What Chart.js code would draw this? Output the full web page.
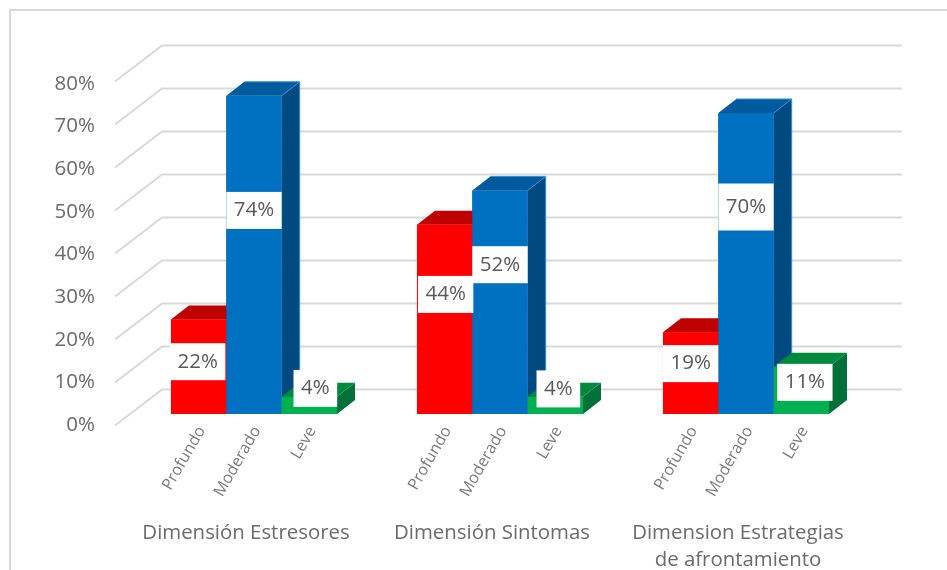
<!DOCTYPE html>
<html>
<head>
<meta charset="utf-8">
<style>
  html, body { margin: 0; padding: 0; background: #fff; }
  #wrap { position: relative; width: 947px; height: 570px; }
  #chart { filter: blur(0.4px); }
</style>
<script src="https://cdn.jsdelivr.net/npm/chart.js@4"></script>
</head>
<body>
<div id="wrap"><canvas id="chart" width="947" height="570"></canvas></div>
<script>
const categories = [
  "Dimensión Estresores",
  "Dimensión Sintomas",
  ["Dimension Estrategias", "de afrontamiento"],
];
const profundo = [22, 44, 19];
const moderado = [74, 52, 70];
const leve = [4, 4, 11];
const yTicks = [0, 10, 20, 30, 40, 50, 60, 70, 80];

// label box shift from the centre of each bar, the original labels were moved by hand
// [dx, dy, box height]
const labelShift = [
  [[-1, -5, 37], [1, -25, 37], [0, -9.5, 37]],
  [[0, -44.5, 37], [0, -37.5, 37], [0, -56.5, 47]],
  [[6, -17, 37], [3, -16.5, 37], [3.5, -8, 37]],
];

const textColor = "#595959";
const axisColor = "#6b6b6b";
const gridColor = "#d9d9d9";
const faces = [
  { top: "#bf0000", side: "#c00000", edge: null },
  { top: "#005a9e", side: "#004a80", edge: "#2f8fd8" },
  { top: "#008a3e", side: "#00703a", edge: null },
];
const depth = { x: 18, y: 14 };

const wall = {
  id: "wall",
  beforeDatasetsDraw(chart) {
    const { ctx, scales: { y } } = chart;
    ctx.save();
    ctx.strokeStyle = gridColor;
    ctx.lineWidth = 2;
    yTicks.forEach((v) => {
      const py = y.getPixelForValue(v);
      ctx.beginPath();
      ctx.moveTo(115, py + 11.5);
      ctx.lineTo(162, py - 24.5);
      ctx.lineTo(902, py - 24.5);
      ctx.stroke();
    });
    ctx.fillStyle = axisColor;
    ctx.font = '20.5px "Open Sans"';
    ctx.textAlign = "right";
    ctx.textBaseline = "middle";
    yTicks.forEach((v) => {
      ctx.fillText(v + "%", 95, y.getPixelForValue(v) + 11 + v * 0.0375);
    });
    ctx.restore();
  },
  afterDatasetsDraw(chart) {
    const { ctx } = chart;
    ctx.save();
    // painted left to right so each bar hides the depth of the one before it
    chart.data.datasets.forEach((ds, d) => {
      chart.getDatasetMeta(d).data.forEach((bar) => {
        const p = bar.getProps(["x", "y", "base", "width"], true);
        const l = p.x - p.width / 2, r = p.x + p.width / 2;
        const f = faces[d];
        ctx.fillStyle = f.side;
        ctx.beginPath();
        ctx.moveTo(r, p.y);
        ctx.lineTo(r + depth.x, p.y - depth.y);
        ctx.lineTo(r + depth.x, p.base - depth.y);
        ctx.lineTo(r, p.base);
        ctx.closePath();
        ctx.fill();
        ctx.fillStyle = f.top;
        ctx.beginPath();
        ctx.moveTo(l, p.y);
        ctx.lineTo(l + depth.x, p.y - depth.y);
        ctx.lineTo(r + depth.x, p.y - depth.y);
        ctx.lineTo(r, p.y);
        ctx.closePath();
        ctx.fill();
        if (f.edge) {
          ctx.strokeStyle = f.edge;
          ctx.lineWidth = 1;
          ctx.beginPath();
          ctx.moveTo(l + depth.x, p.y - depth.y);
          ctx.lineTo(r + depth.x, p.y - depth.y);
          ctx.lineTo(r + depth.x, p.base - depth.y);
          ctx.lineTo(r, p.base);
          ctx.moveTo(r + depth.x, p.y - depth.y);
          ctx.lineTo(r, p.y);
          ctx.stroke();
        }
        bar.draw(ctx);
      });
    });

    // rotated series names under the bars
    ctx.fillStyle = "#7a7a7a";
    ctx.font = '16px "Open Sans"';
    ctx.textAlign = "right";
    ctx.textBaseline = "middle";
    chart.data.datasets.forEach((ds, d) => {
      chart.getDatasetMeta(d).data.forEach((bar) => {
        ctx.save();
        ctx.translate(bar.x + 3, bar.base + 14);
        ctx.rotate(-Math.PI / 3);
        ctx.fillText(ds.label, 0, 0);
        ctx.restore();
      });
    });

    // value labels on white boxes
    ctx.font = '20.5px "Open Sans"';
    ctx.textAlign = "center";
    chart.data.datasets.forEach((ds, d) => {
      chart.getDatasetMeta(d).data.forEach((bar, i) => {
        const p = bar.getProps(["x", "y", "base", "width"], true);
        const [dx, dy, h] = labelShift[d][i];
        const cx = p.x + dx;
        const cy = (p.y + p.base) / 2 + dy;
        const text = ds.data[i] + "%";
        const w = ctx.measureText(text).width + 15;
        ctx.fillStyle = "#fff";
        ctx.fillRect(cx - w / 2, cy - h / 2, w, h);
        ctx.fillStyle = textColor;
        ctx.fillText(text, cx, cy);
      });
    });
    ctx.restore();
  },
};

const frame = {
  id: "frame",
  beforeDraw(chart) {
    const { ctx } = chart;
    ctx.save();
    ctx.strokeStyle = gridColor;
    ctx.lineWidth = 2;
    ctx.strokeRect(10, 10, 945, 570);
    ctx.restore();
  },
};

new Chart(document.getElementById("chart"), {
  type: "bar",
  data: {
    labels: categories,
    datasets: [
      { label: "Profundo", data: profundo, backgroundColor: "#ff0000" },
      { label: "Moderado", data: moderado, backgroundColor: "#0070c0" },
      { label: "Leve", data: leve, backgroundColor: "#00b050" },
    ],
  },
  options: {
    responsive: false,
    animation: false,
    layout: { padding: { left: 131, right: 78, top: 70, bottom: 0 } },
    datasets: { bar: { categoryPercentage: 0.675, barPercentage: 1 } },
    plugins: { legend: { display: false }, tooltip: { enabled: false } },
    scales: {
      x: {
        afterFit(s) {
          s.height = 156;
          // long labels must not squeeze the plot sideways
          s.paddingLeft = 0;
          s.paddingRight = 0;
        },
        grid: { display: false },
        border: { display: false },
        ticks: {
          color: axisColor,
          font: { family: "Open Sans", size: 20.4, lineHeight: 1.32 },
          padding: 98,
          labelOffset: -8,
          maxRotation: 0,
          autoSkip: false,
        },
      },
      y: {
        min: 0,
        max: 80,
        afterFit(s) { s.width = 0; },
        grid: { display: false },
        border: { display: false },
        ticks: { display: false, stepSize: 10 },
      },
    },
  },
  plugins: [frame, wall],
});
</script>
</body>
</html>
